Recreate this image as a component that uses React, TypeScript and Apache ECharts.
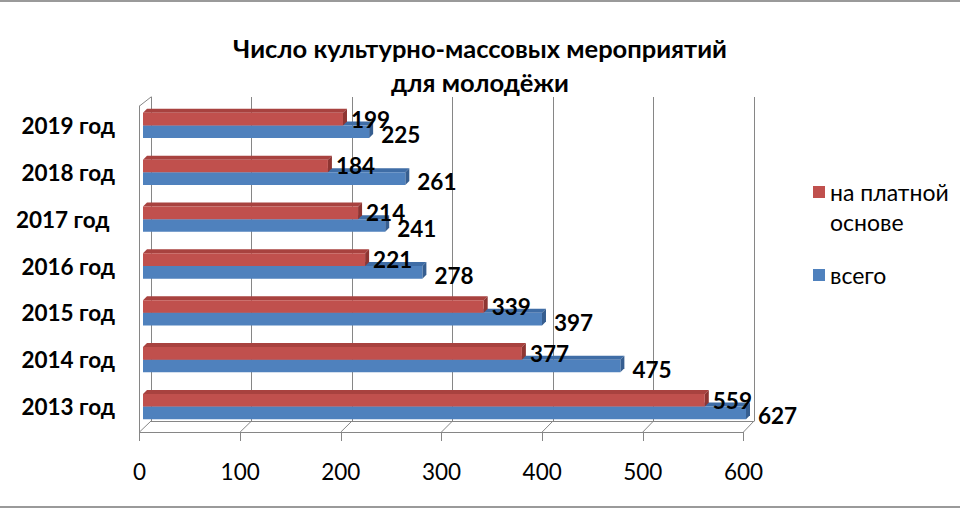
import React, { useEffect, useRef } from "react";
import * as echarts from "echarts";

const CATEGORIES = ["2013 год", "2014 год", "2015 год", "2016 год", "2017 год ", "2018 год", "2019 год"];
const PAID = [559, 377, 339, 221, 214, 184, 199];
const TOTAL = [627, 475, 397, 278, 241, 261, 225];
const TICK_VALUES = [0, 100, 200, 300, 400, 500, 600];
const AXIS_MIN = 0;
const AXIS_MAX = 600;
const AXIS_STEP = 100;
const SERIES_PAID = "на платной основе";
const SERIES_TOTAL = "всего";
const LEGEND_TEXT: Record<string, string> = {
  "на платной основе": "\nна платной\nоснове",
  "всего": "всего",
};
const TITLE = "Число культурно-массовых мероприятий\nдля молодёжи";

const FONT = "Lato, 'Open Sans', sans-serif";
const LINE = "#868686";
const RED = { front: "#C0504D", top: "#A8423F", side: "#8E3532" };
const BLUE = { front: "#4F81BD", top: "#3F6DA6", side: "#365E90" };

function makeRender(kind: "paid" | "total") {
  const c = kind === "paid" ? RED : BLUE;
  return (params: any, api: any) => {
    const cat = api.value(0);
    const val = api.value(1);
    const band = api.size([0, 1])[1];
    const p0 = api.coord([AXIS_MIN, cat]);
    const p1 = api.coord([Math.min(val, AXIS_MAX), cat]);
    const h = band * 0.27;
    const cy = p0[1];
    const top = kind === "paid" ? cy - h : cy;
    const bottom = top + h;
    const x0 = p0[0];
    const x1 = p1[0];
    const d = 4;
    const gap = kind === "paid" ? 4 : 8;
    const dy = kind === "paid" ? 0 : 3;
    return {
      type: "group",
      children: [
        {
          type: "polygon",
          shape: { points: [[x0, top], [x1, top], [x1 + d, top - d], [x0 + d, top - d]] },
          style: { fill: c.top },
        },
        {
          type: "polygon",
          shape: { points: [[x1, top], [x1 + d, top - d], [x1 + d, bottom - d], [x1, bottom]] },
          style: { fill: c.side },
        },
        {
          type: "rect",
          shape: { x: x0, y: top, width: x1 - x0, height: h },
          style: { fill: c.front },
        },
        {
          type: "text",
          z2: 10,
          x: x1 + d + gap,
          y: (top + bottom) / 2 + dy,
          style: {
            text: String(val),
            fill: "#000",
            fontFamily: FONT,
            fontWeight: "bold",
            fontSize: 22.5,
            align: "left",
            verticalAlign: "middle",
          },
        },
      ],
    };
  };
}

export default function App() {
  const ref = useRef<HTMLDivElement>(null);
  useEffect(() => {
    if (!ref.current) return;
    const chart = echarts.init(ref.current, null, { renderer: "svg" });
    const lineStyle = { color: LINE, width: 1 };
    const option: any = {
      animation: false,
      backgroundColor: "#fff",
      title: {
        text: TITLE,
        left: "center",
        top: 26,
        textStyle: { fontFamily: FONT, fontWeight: "bold", fontSize: 25.5, lineHeight: 34, color: "#000" },
      },
      legend: {
        orient: "vertical",
        left: 813,
        top: 147,
        padding: 0,
        itemWidth: 12,
        itemHeight: 12,
        itemGap: 23,
        icon: "rect",
        selectedMode: false,
        formatter: (name: string) => LEGEND_TEXT[name] ?? name,
        data: [
          { name: SERIES_PAID, itemStyle: { color: RED.front } },
          { name: SERIES_TOTAL, itemStyle: { color: BLUE.front } },
        ],
        textStyle: {
          fontFamily: FONT,
          fontSize: 23,
          color: "#000",
          lineHeight: 30,
        },
      },
      grid: [
        { left: 143, top: 102, width: 603, height: 328 },
        { left: 151, top: 97, width: 603, height: 324 },
        { left: 139.5, top: 106, width: 604, height: 326 },
      ],
      xAxis: [
        { gridIndex: 0, type: "value", min: AXIS_MIN, max: AXIS_MAX, interval: AXIS_STEP, show: false },
        {
          gridIndex: 1, type: "value", min: AXIS_MIN, max: AXIS_MAX, interval: AXIS_STEP,
          axisLine: { show: true, lineStyle }, axisTick: { show: false }, axisLabel: { show: false },
          splitLine: { show: true, lineStyle },
        },
        {
          gridIndex: 2, type: "value", min: AXIS_MIN, max: AXIS_MAX, interval: AXIS_STEP,
          axisLine: { show: true, lineStyle },
          axisTick: { show: true, length: 9, lineStyle },
          axisLabel: { show: true, fontFamily: FONT, fontSize: 22.5, color: "#000", margin: 28 },
          splitLine: { show: false },
        },
      ],
      yAxis: [
        {
          gridIndex: 0, type: "category", data: CATEGORIES,
          axisLine: { show: false }, axisTick: { show: false },
          axisLabel: {
            fontFamily: FONT, fontWeight: "bold", fontSize: 22.5, color: "#000",
            margin: 28, padding: [8, 0, 0, 0],
          },
        },
        {
          gridIndex: 1, type: "value", min: 0, max: 1,
          axisLine: { show: true, lineStyle }, axisTick: { show: false }, axisLabel: { show: false }, splitLine: { show: false },
        },
        {
          gridIndex: 2, type: "value", min: 0, max: 1,
          axisLine: { show: true, lineStyle }, axisTick: { show: false }, axisLabel: { show: false }, splitLine: { show: false },
        },
      ],
      series: [
        {
          type: "custom", name: SERIES_TOTAL, xAxisIndex: 0, yAxisIndex: 0, z: 3,
          itemStyle: { color: BLUE.front },
          data: TOTAL.map((v, i) => [i, v]),
          encode: { x: 1, y: 0 },
          renderItem: makeRender("total"),
        },
        {
          type: "custom", name: SERIES_PAID, xAxisIndex: 0, yAxisIndex: 0, z: 4,
          itemStyle: { color: RED.front },
          data: PAID.map((v, i) => [i, v]),
          encode: { x: 1, y: 0 },
          renderItem: makeRender("paid"),
        },
      ],
    };
    chart.setOption(option);

    const graphics: any[] = [
      { type: "line", shape: { x1: 0, y1: 1, x2: 960, y2: 1 }, style: { stroke: "#9a9a9a", lineWidth: 2 } },
      { type: "line", shape: { x1: 0, y1: 507, x2: 960, y2: 507 }, style: { stroke: "#9a9a9a", lineWidth: 2 } },
    ];
    TICK_VALUES.forEach((v) => {
      const f = chart.convertToPixel({ gridIndex: 2 } as any, [v, 0]) as number[];
      const b = chart.convertToPixel({ gridIndex: 1 } as any, [v, 0]) as number[];
      graphics.push({ type: "line", shape: { x1: f[0], y1: f[1], x2: b[0], y2: b[1] }, style: { stroke: LINE, lineWidth: 1 } });
    });
    const ft = chart.convertToPixel({ gridIndex: 2 } as any, [AXIS_MIN, 1]) as number[];
    const bt = chart.convertToPixel({ gridIndex: 1 } as any, [AXIS_MIN, 1]) as number[];
    graphics.push({ type: "line", shape: { x1: ft[0], y1: ft[1], x2: bt[0], y2: bt[1] }, style: { stroke: LINE, lineWidth: 1 } });
    chart.setOption({ graphic: graphics });

    return () => chart.dispose();
  }, []);
  return <div ref={ref} style={{ position: "fixed", left: 0, top: 0, width: 960, height: 510 }} />;
}
